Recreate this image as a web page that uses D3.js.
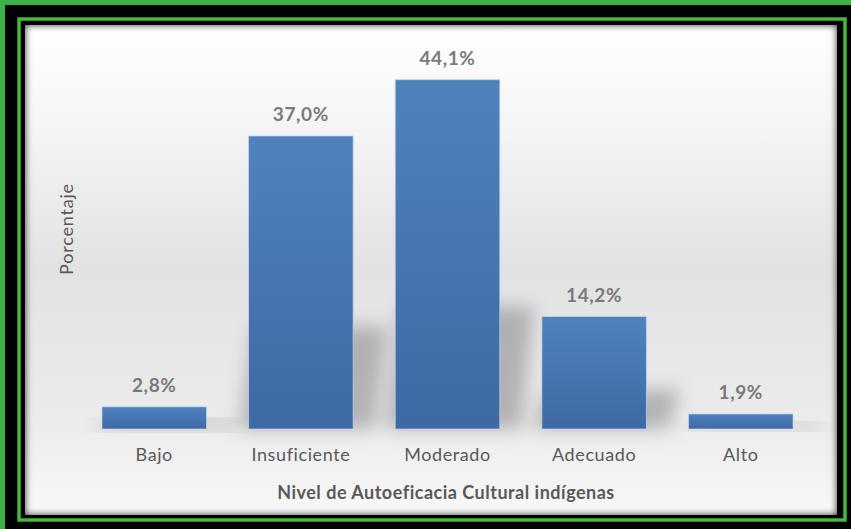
<!DOCTYPE html>
<html>
<head>
<meta charset="utf-8">
<script src="https://cdn.jsdelivr.net/npm/d3@7"></script>
<style>
  html, body { margin: 0; padding: 0; background: #000; }
  svg { display: block; }
</style>
</head>
<body>
<svg id="chart" width="851" height="529"></svg>
<script>
// Nivel de Autoeficacia Cultural indígenas — distribución porcentual
const categories = ["Bajo", "Insuficiente", "Moderado", "Adecuado", "Alto"];
const values = [2.8, 37.0, 44.1, 14.2, 1.9];
const valueLabels = ["2,8%", "37,0%", "44,1%", "14,2%", "1,9%"];
const xTitle = "Nivel de Autoeficacia Cultural indígenas";
const yTitle = "Porcentaje";

const W = 851, H = 529;
const FONT = "Lato, 'Open Sans', sans-serif";
const svg = d3.select("#chart");
const defs = svg.append("defs");

// Panel background gradient (white at the top, soft gray in the middle)
const bg = defs.append("linearGradient").attr("id", "bg").attr("x1", 0).attr("y1", 0).attr("x2", 0).attr("y2", 1);
bg.append("stop").attr("offset", "0%").attr("stop-color", "#ffffff");
bg.append("stop").attr("offset", "20%").attr("stop-color", "#f5f5f5");
bg.append("stop").attr("offset", "50%").attr("stop-color", "#e2e2e2");
bg.append("stop").attr("offset", "80%").attr("stop-color", "#ebebeb");
bg.append("stop").attr("offset", "100%").attr("stop-color", "#f8f8f8");

// Bar fill gradient
const bar = defs.append("linearGradient").attr("id", "barGrad").attr("x1", 0).attr("y1", 0).attr("x2", 0).attr("y2", 1);
bar.append("stop").attr("offset", "0%").attr("stop-color", "#5082bf");
bar.append("stop").attr("offset", "100%").attr("stop-color", "#3d69a4");

// Inner edge shading of the panel
const edge = defs.append("filter").attr("id", "inset").attr("x", "-5%").attr("y", "-5%").attr("width", "110%").attr("height", "110%");
edge.append("feGaussianBlur").attr("stdDeviation", 3);

const blur = defs.append("filter").attr("id", "shadowBlur").attr("x", "-50%").attr("y", "-50%").attr("width", "200%").attr("height", "200%");
blur.append("feGaussianBlur").attr("stdDeviation", 9);

// Frame: outer green strip, black border, thin green line
svg.append("rect").attr("x", 0).attr("y", 0).attr("width", W).attr("height", H).attr("fill", "#000");
svg.append("rect").attr("x", 0).attr("y", 0).attr("width", W).attr("height", 5).attr("fill", "#3cb14a");
svg.append("rect").attr("x", 0).attr("y", 0).attr("width", 5).attr("height", H).attr("fill", "#3cb14a");
svg.append("rect").attr("x", 19).attr("y", 19).attr("width", 826).attr("height", 501)
  .attr("fill", "none").attr("stroke", "#44b93c").attr("stroke-width", 3.5);

// Panel
const panel = { x: 25, y: 25, w: 812, h: 490 };
const clip = defs.append("clipPath").attr("id", "panelClip");
clip.append("rect").attr("x", panel.x).attr("y", panel.y).attr("width", panel.w).attr("height", panel.h);
svg.append("rect").attr("x", panel.x).attr("y", panel.y).attr("width", panel.w).attr("height", panel.h).attr("fill", "url(#bg)");
svg.append("g").attr("clip-path", "url(#panelClip)")
  .append("rect").attr("x", panel.x - 3).attr("y", panel.y - 3).attr("width", panel.w + 6).attr("height", panel.h + 6)
  .attr("fill", "none").attr("stroke", "#222").attr("stroke-width", 7).attr("filter", "url(#inset)").attr("opacity", 0.85);

// Scales
const x = d3.scaleBand().domain(categories).range([81, 814]).paddingInner(0.287).paddingOuter(0.143);
const y = d3.scaleLinear().domain([0, 50]).range([429, 33]);

const plot = svg.append("g").attr("clip-path", "url(#panelClip)");

// Soft perspective shadows behind the bars
plot.selectAll("path.shadow").data(values).join("path")
  .attr("class", "shadow")
  .attr("d", (d, i) => {
    const x0 = x(categories[i]), bw = x.bandwidth();
    const base = y(0), h = (y(0) - y(d)) * 0.35;
    return `M${x0 - 10},${base} L${x0 + 6},${base - h} L${x0 + bw + 34},${base - h} L${x0 + bw + 22},${base} Z`;
  })
  .attr("fill", "#7c7c7c").attr("opacity", 0.5).attr("filter", "url(#shadowBlur)");

// Bars
plot.selectAll("rect.bar").data(values).join("rect")
  .attr("class", "bar")
  .attr("x", (d, i) => x(categories[i]))
  .attr("y", d => y(d))
  .attr("width", x.bandwidth())
  .attr("height", d => y(0) - y(d))
  .attr("fill", "url(#barGrad)")
  .attr("stroke", "#c5d6ec").attr("stroke-width", 1).attr("stroke-opacity", 0.7);

// Value labels
plot.selectAll("text.val").data(values).join("text")
  .attr("class", "val")
  .attr("x", (d, i) => x(categories[i]) + x.bandwidth() / 2)
  .attr("y", d => y(d) - 15)
  .attr("text-anchor", "middle")
  .attr("font-family", FONT)
  .attr("font-weight", "bold").attr("font-size", 19).attr("letter-spacing", 0.6)
  .attr("fill", "#7a7a7a")
  .text((d, i) => valueLabels[i]);

// Category axis labels
const xAxis = d3.axisBottom(x).tickSize(0).tickPadding(0);
const gx = svg.append("g").attr("transform", `translate(0,${y(0) + 32})`).call(xAxis);
gx.select(".domain").remove();
gx.selectAll("text")
  .attr("font-family", FONT)
  .attr("font-size", 18).attr("letter-spacing", 0.6).attr("fill", "#595959").attr("dy", 0);

// Axis titles
svg.append("text")
  .attr("x", 446).attr("y", 499)
  .attr("text-anchor", "middle")
  .attr("font-family", FONT)
  .attr("font-weight", "bold").attr("font-size", 18).attr("letter-spacing", 0.5)
  .attr("fill", "#595959")
  .text(xTitle);

svg.append("text")
  .attr("transform", "translate(73,229) rotate(-90)")
  .attr("text-anchor", "middle")
  .attr("font-family", FONT)
  .attr("font-size", 18).attr("letter-spacing", 0.8)
  .attr("fill", "#595959")
  .text(yTitle);
</script>
</body>
</html>
